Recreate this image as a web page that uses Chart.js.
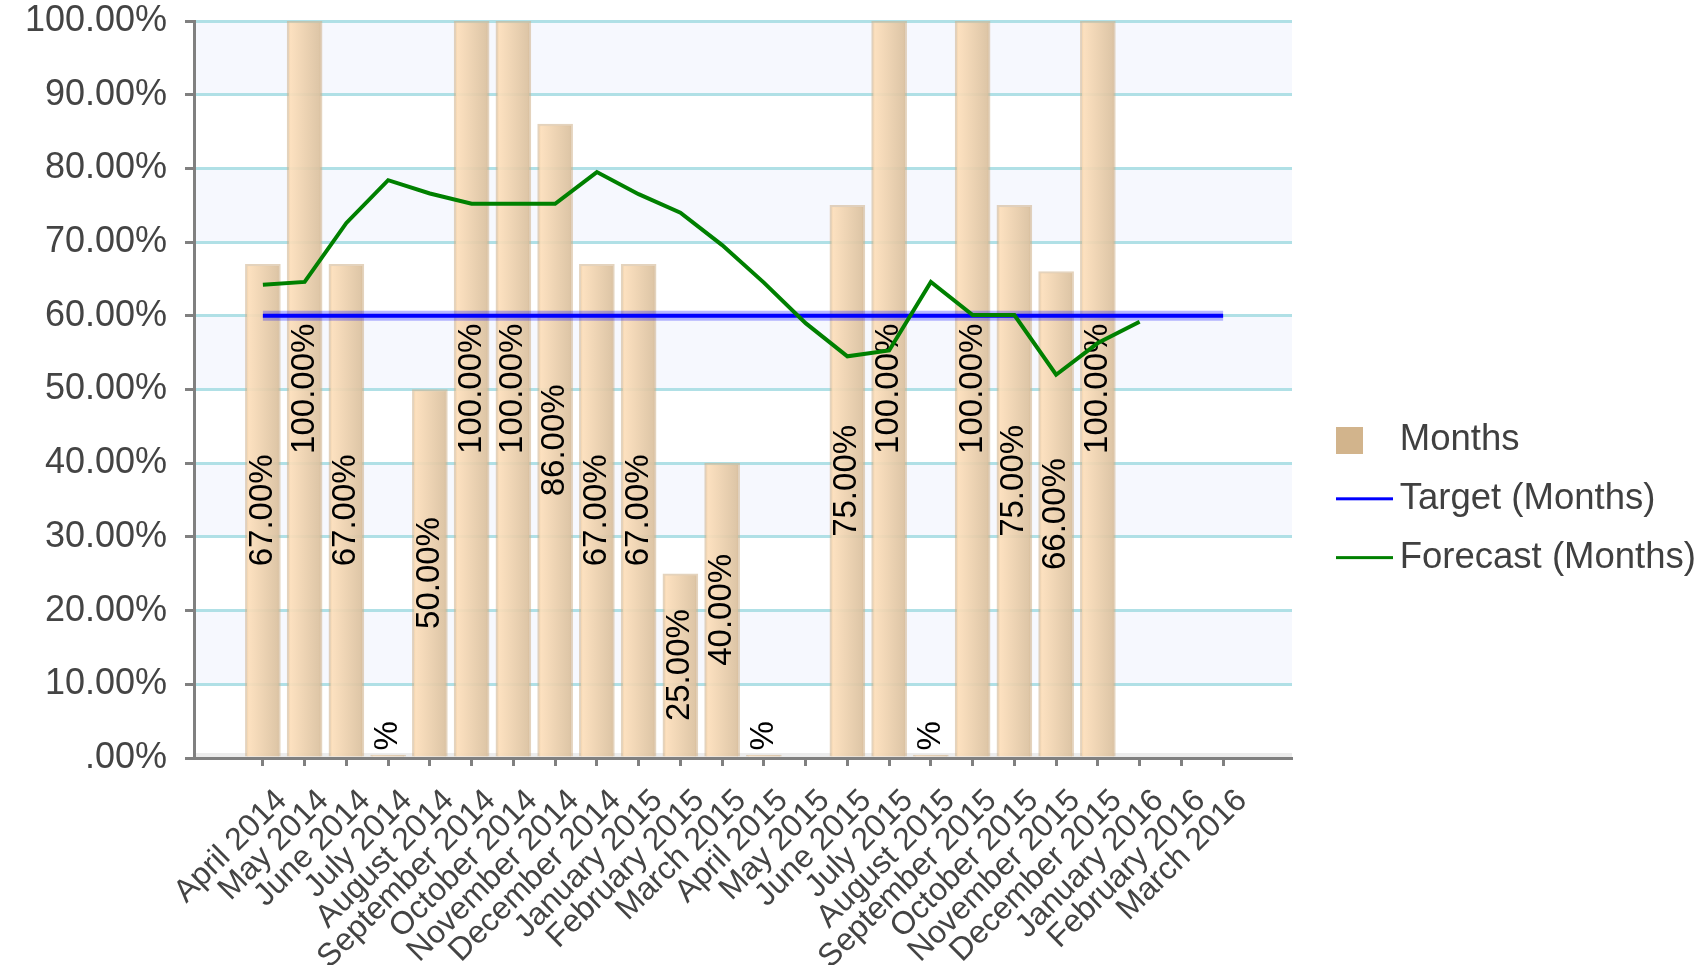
<!DOCTYPE html>
<html>
<head>
<meta charset="utf-8">
<script src="https://cdn.jsdelivr.net/npm/chart.js@4.4.0/dist/chart.umd.min.js"></script>
<style>
html,body{margin:0;padding:0;background:#ffffff;}
#wrap{width:1704px;height:965px;position:relative;}
</style>
</head>
<body>
<div id="wrap"><canvas id="c"></canvas></div>
<script>
// ---- data ----
const months = ['April 2014','May 2014','June 2014','July 2014','August 2014','September 2014','October 2014','November 2014','December 2014','January 2015','February 2015','March 2015','April 2015','May 2015','June 2015','July 2015','August 2015','September 2015','October 2015','November 2015','December 2015','January 2016','February 2016','March 2016'];
const monthsValues = [67,100,67,0,50,100,100,86,67,67,25,40,0,null,75,100,0,100,75,66,100,null,null,null];
const targetValues = [60,60,60,60,60,60,60,60,60,60,60,60,60,60,60,60,60,60,60,60,60,60,60,60];
const forecastValues = [64.2,64.6,72.6,78.4,76.6,75.2,75.2,75.2,79.5,76.5,74.0,69.6,64.5,59.0,54.5,55.3,64.6,60.1,60.1,52.0,56.3,59.2,null,null];
const seriesNames = ['Months','Target (Months)','Forecast (Months)'];

// ---- styles ----
const FONT = "'Liberation Sans', Arial, sans-serif";
const BAR_W = 35;

function toXY(arr){ return arr.map((v,i)=>({x:i, y:v})); }

function barFill(c){
  const chart = c.chart;
  if (c.type !== 'data' || !chart.chartArea) return 'rgba(240,212,176,0.92)';
  const cx = chart.scales.x.getPixelForValue(c.dataIndex);
  const g = chart.ctx.createLinearGradient(cx - BAR_W/2, 0, cx + BAR_W/2, 0);
  g.addColorStop(0, 'rgba(236,204,162,0.92)');
  g.addColorStop(0.1, 'rgba(252,222,186,0.92)');
  g.addColorStop(0.9, 'rgba(220,194,160,0.92)');
  g.addColorStop(1, 'rgba(212,184,148,0.92)');
  return g;
}

function legendIcon(kind, color){
  const c = document.createElement('canvas');
  c.width = 57; c.height = 27;
  const g = c.getContext('2d');
  g.fillStyle = color;
  if (kind === 'box') g.fillRect(0,0,27,27); else g.fillRect(0,12,57,3);
  return c;
}
const icons = [legendIcon('box','#D2B48C'), legendIcon('line','#0000FF'), legendIcon('line','#008000')];

const bandsPlugin = {
  id: 'bands',
  beforeDraw(chart){
    const {ctx, chartArea:a, scales:{y}} = chart;
    ctx.save();
    ctx.fillStyle = '#F6F8FE';
    const t = y.ticks;
    for (let i = 0; i < t.length - 1; i++) {
      if (i % 2 === 1) {
        const y0 = y.getPixelForValue(t[i].value), y1 = y.getPixelForValue(t[i+1].value);
        ctx.fillRect(a.left, y1, a.right - a.left, y0 - y1);
      }
    }
    ctx.fillStyle = '#ECECEC';
    ctx.fillRect(a.left, a.bottom - 5, a.right - a.left, 5);
    ctx.restore();
  }
};

const haloPlugin = {
  id: 'halo',
  beforeDatasetDraw(chart, args){
    if (args.index !== 1) return;
    const ctx = chart.ctx, pts = args.meta.data;
    ctx.save();
    ctx.strokeStyle = 'rgba(0,0,255,0.28)';
    ctx.lineWidth = 10;
    ctx.beginPath();
    pts.forEach((p,i)=>{ if (i) ctx.lineTo(p.x,p.y); else ctx.moveTo(p.x,p.y); });
    ctx.stroke();
    ctx.restore();
  }
};

const labelsPlugin = {
  id: 'barLabels',
  afterDatasetDraw(chart, args){
    if (args.index !== 0) return;
    const ctx = chart.ctx;
    ctx.save();
    ctx.font = '33px ' + FONT;
    ctx.fillStyle = '#000000';
    ctx.textBaseline = 'middle';
    args.meta.data.forEach((bar, i) => {
      const v = monthsValues[i];
      if (v === null || v === undefined) return;
      ctx.save();
      if (v === 0) {
        ctx.translate(bar.x, bar.base - 6);
        ctx.rotate(-Math.PI/2);
        ctx.textAlign = 'left';
        ctx.fillText('%', 0, 0);
      } else {
        ctx.translate(bar.x, (bar.y + bar.base)/2);
        ctx.rotate(-Math.PI/2);
        ctx.textAlign = 'center';
        ctx.fillText(v.toFixed(2) + '%', 0, 0);
      }
      ctx.restore();
    });
    ctx.restore();
  }
};

const legendPlace = {
  id: 'legendPlace',
  beforeUpdate(chart){
    const lg = chart.legend;
    if (lg && !lg._fixedFit) {
      const f = lg.fit;
      lg.fit = function(){ f.call(this); this.width = 412; };
      lg._fixedFit = true;
    }
  },
  afterLayout(chart){
    const lg = chart.legend;
    const pad = lg.options.labels.padding;
    lg.left = chart.chartArea.right + 55.5 - pad;
    lg.right = lg.left + lg.width;
    lg.top = 421.75 - pad;
  }
};

new Chart(document.getElementById('c'), {
  data: {
    datasets: [
      { type:'bar', label: seriesNames[0], data: toXY(monthsValues), order: 3,
        backgroundColor: barFill, borderColor: 'rgba(205,175,135,0.55)', borderWidth: 2,
        barThickness: BAR_W, minBarLength: 3 },
      { type:'line', label: seriesNames[1], data: toXY(targetValues), order: 2,
        borderColor: '#0000FF', borderWidth: 4, pointRadius: 0, tension: 0, fill: false },
      { type:'line', label: seriesNames[2], data: toXY(forecastValues), order: 1,
        borderColor: '#008000', borderWidth: 4, pointRadius: 0, tension: 0, fill: false }
    ]
  },
  options: {
    responsive: true,
    maintainAspectRatio: false,
    animation: false,
    devicePixelRatio: 1,
    layout: { padding: { top: 21, left: 0, right: 0, bottom: 0 } },
    plugins: {
      tooltip: { enabled: false },
      legend: {
        position: 'right',
        align: 'start',
        labels: {
          usePointStyle: true,
          pointStyleWidth: 34,
          boxHeight: 36,
          padding: 22.3,
          color: '#404040',
          font: { family: FONT, size: 36.5 },
          generateLabels(){
            return seriesNames.map((n,i)=>({ text: n, pointStyle: icons[i], fillStyle: 'transparent', strokeStyle: 'transparent', lineWidth: 0, hidden: false, datasetIndex: i, fontColor: '#404040' }));
          }
        }
      }
    },
    scales: {
      x: {
        type: 'linear',
        offset: false,
        min: -1.65,
        max: 24.65,
        afterBuildTicks(s){ s.ticks = months.map((_,i)=>({value:i})); },
        afterFit(s){ s.height = 207; },
        grid: { offset: false, drawOnChartArea: false, drawTicks: true, tickLength: 8, tickWidth: 3, tickColor: '#808080' },
        border: { color: '#808080', width: 3 },
        ticks: {
          autoSkip: false, maxRotation: 45, minRotation: 45, padding: 16, labelOffset: 19,
          color: '#444444', font: { family: FONT, size: 32 },
          callback: (v) => months[v]
        }
      },
      y: {
        min: 0, max: 100,
        afterFit(s){ s.width = 194; s.paddingTop = 0; s.paddingBottom = 0; },
        grid: { color: '#B0E0E6', lineWidth: 3, tickColor: '#808080', tickLength: 9, tickWidth: 3 },
        border: { color: '#808080', width: 3 },
        ticks: {
          stepSize: 10, padding: 18, color: '#444444', font: { family: FONT, size: 36 },
          callback: (v) => { const s = Number(v).toFixed(2); return (s.startsWith('0') ? s.slice(1) : s) + '%'; }
        }
      }
    }
  },
  plugins: [bandsPlugin, haloPlugin, labelsPlugin, legendPlace]
});
</script>
</body>
</html>
